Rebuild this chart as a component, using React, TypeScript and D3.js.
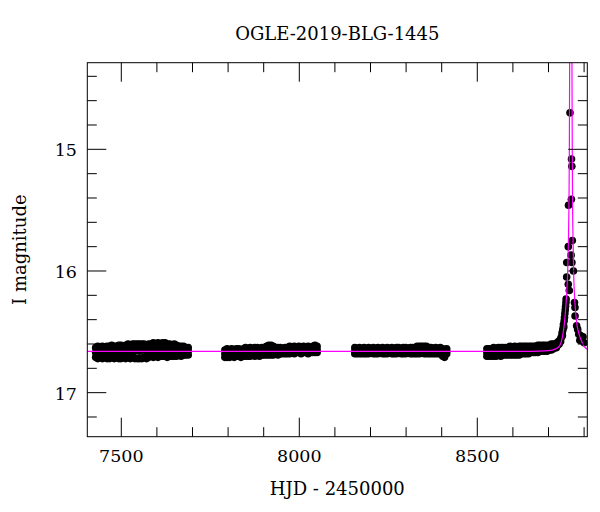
import React from "react";
import * as d3 from "d3";

// ---------- data ----------
// baseline seasons: [HJD-2450000, mag, mag, mag] (several measurements per group of nights)
const season1: number[][] = [
  [7428, 16.63, 16.67, 16.71], [7434, 16.62, 16.68, 16.72], [7441, 16.63, 16.66, 16.71],
  [7447, 16.62, 16.69, 16.72], [7454, 16.63, 16.67, 16.71], [7460, 16.62, 16.66, 16.72],
  [7467, 16.62, 16.68, 16.72], [7473, 16.61, 16.65, 16.71], [7480, 16.62, 16.67, 16.72],
  [7486, 16.62, 16.69, 16.71], [7493, 16.61, 16.66, 16.72], [7499, 16.61, 16.67, 16.72],
  [7506, 16.62, 16.65, 16.71], [7512, 16.61, 16.68, 16.72], [7519, 16.60, 16.66, 16.71],
  [7525, 16.61, 16.67, 16.72], [7532, 16.60, 16.65, 16.71], [7538, 16.60, 16.66, 16.72],
  [7545, 16.60, 16.64, 16.72], [7551, 16.60, 16.66, 16.72], [7558, 16.60, 16.65, 16.72],
  [7564, 16.60, 16.64, 16.71], [7571, 16.61, 16.66, 16.72], [7577, 16.60, 16.65, 16.71],
  [7584, 16.60, 16.63, 16.70], [7590, 16.59, 16.65, 16.71], [7597, 16.60, 16.64, 16.70],
  [7603, 16.59, 16.66, 16.71], [7610, 16.60, 16.63, 16.70], [7616, 16.59, 16.65, 16.70],
  [7623, 16.59, 16.64, 16.70], [7629, 16.60, 16.66, 16.71], [7636, 16.60, 16.63, 16.70],
  [7642, 16.61, 16.65, 16.70], [7649, 16.60, 16.64, 16.70], [7655, 16.61, 16.66, 16.70],
  [7662, 16.62, 16.64, 16.69], [7668, 16.62, 16.65, 16.70], [7675, 16.62, 16.66, 16.69],
  [7681, 16.63, 16.65, 16.69], [7688, 16.63, 16.66, 16.69],
];
const season2: number[][] = [
  [7791, 16.65, 16.68, 16.71], [7797, 16.64, 16.67, 16.71], [7804, 16.65, 16.69, 16.71],
  [7810, 16.64, 16.67, 16.70], [7817, 16.65, 16.68, 16.71], [7823, 16.64, 16.66, 16.70],
  [7830, 16.64, 16.68, 16.70], [7836, 16.65, 16.67, 16.71], [7843, 16.64, 16.68, 16.70],
  [7849, 16.63, 16.66, 16.70], [7856, 16.64, 16.67, 16.70], [7862, 16.63, 16.68, 16.70],
  [7869, 16.64, 16.66, 16.69], [7875, 16.63, 16.67, 16.70], [7882, 16.63, 16.66, 16.69],
  [7888, 16.64, 16.67, 16.70], [7895, 16.63, 16.66, 16.69], [7901, 16.63, 16.67, 16.69],
  [7908, 16.62, 16.65, 16.69], [7914, 16.61, 16.66, 16.69], [7921, 16.61, 16.65, 16.69],
  [7927, 16.62, 16.66, 16.69], [7934, 16.63, 16.65, 16.68], [7940, 16.63, 16.66, 16.69],
  [7947, 16.63, 16.65, 16.68], [7953, 16.64, 16.66, 16.68], [7960, 16.63, 16.65, 16.68],
  [7966, 16.63, 16.66, 16.68], [7973, 16.62, 16.65, 16.68], [7979, 16.63, 16.66, 16.67],
  [7986, 16.62, 16.65, 16.68], [7992, 16.63, 16.64, 16.67], [7999, 16.62, 16.65, 16.67],
  [8005, 16.63, 16.66, 16.68], [8012, 16.62, 16.64, 16.67], [8018, 16.63, 16.65, 16.67],
  [8025, 16.62, 16.66, 16.68], [8031, 16.63, 16.65, 16.67], [8038, 16.62, 16.64, 16.67],
  [8044, 16.61, 16.66, 16.67], [8050, 16.62, 16.65, 16.67],
];
const season3: number[][] = [
  [8156, 16.63, 16.66, 16.68], [8162, 16.64, 16.65, 16.68], [8169, 16.63, 16.67, 16.68],
  [8175, 16.64, 16.66, 16.68], [8182, 16.63, 16.65, 16.68], [8188, 16.64, 16.66, 16.68],
  [8195, 16.63, 16.67, 16.68], [8201, 16.64, 16.65, 16.67], [8208, 16.63, 16.66, 16.68],
  [8214, 16.64, 16.67, 16.68], [8221, 16.63, 16.65, 16.68], [8227, 16.64, 16.66, 16.67],
  [8234, 16.63, 16.67, 16.68], [8240, 16.64, 16.65, 16.68], [8247, 16.63, 16.66, 16.68],
  [8253, 16.64, 16.66, 16.67], [8260, 16.63, 16.65, 16.68], [8266, 16.64, 16.67, 16.68],
  [8273, 16.63, 16.66, 16.68], [8279, 16.63, 16.65, 16.67], [8286, 16.64, 16.66, 16.68],
  [8292, 16.63, 16.67, 16.68], [8299, 16.63, 16.65, 16.68], [8305, 16.64, 16.66, 16.67],
  [8312, 16.63, 16.66, 16.68], [8318, 16.63, 16.65, 16.68], [8325, 16.63, 16.66, 16.68],
  [8331, 16.62, 16.65, 16.68], [8338, 16.62, 16.66, 16.68], [8344, 16.62, 16.65, 16.67],
  [8351, 16.62, 16.66, 16.68], [8357, 16.62, 16.65, 16.68], [8364, 16.63, 16.66, 16.68],
  [8370, 16.63, 16.65, 16.68], [8377, 16.64, 16.66, 16.68], [8383, 16.63, 16.65, 16.68],
  [8390, 16.64, 16.66, 16.68], [8396, 16.63, 16.65, 16.68], [8403, 16.64, 16.68, 16.70],
  [8408, 16.65, 16.69, 16.71], [8414, 16.64, 16.66, 16.68],
];
const season4: number[][] = [
  [8527, 16.64, 16.67, 16.70], [8533, 16.64, 16.68, 16.70], [8540, 16.64, 16.66, 16.70],
  [8546, 16.63, 16.67, 16.70], [8553, 16.64, 16.68, 16.70], [8559, 16.63, 16.66, 16.69],
  [8566, 16.63, 16.67, 16.70], [8572, 16.63, 16.66, 16.69], [8579, 16.63, 16.67, 16.69],
  [8585, 16.63, 16.65, 16.69], [8592, 16.62, 16.66, 16.69], [8598, 16.63, 16.67, 16.69],
  [8605, 16.62, 16.65, 16.69], [8611, 16.63, 16.66, 16.69], [8618, 16.62, 16.65, 16.69],
  [8624, 16.62, 16.66, 16.68], [8631, 16.62, 16.65, 16.68], [8637, 16.62, 16.66, 16.68],
  [8644, 16.62, 16.64, 16.68], [8650, 16.62, 16.65, 16.67], [8657, 16.62, 16.64, 16.67],
  [8663, 16.62, 16.65, 16.67], [8670, 16.61, 16.64, 16.67], [8676, 16.61, 16.63, 16.66],
  [8683, 16.61, 16.64, 16.66], [8689, 16.61, 16.63, 16.66], [8696, 16.61, 16.64, 16.66],
  [8702, 16.61, 16.63, 16.65], [8708, 16.60, 16.63, 16.65], [8714, 16.60, 16.62, 16.64],
];
// event: [HJD-2450000, mag]
const eventPoints: number[][] = [
  [8718, 16.62], [8720, 16.60], [8722, 16.63], [8724, 16.59], [8726, 16.61], [8728, 16.58],
  [8730, 16.60], [8732, 16.57], [8734, 16.58], [8735, 16.55], [8737, 16.54], [8738, 16.51],
  [8739, 16.53], [8740, 16.49], [8741, 16.47], [8742, 16.44], [8743, 16.46], [8744, 16.41],
  [8745, 16.38], [8746, 16.35], [8747, 16.32], [8748, 16.29], [8749, 16.26], [8749.5, 16.23],
  [8751.0, 16.05], [8751.3, 15.93], [8755.6, 15.80], [8755.6, 16.11], [8756.2, 15.46],
  [8758.4, 16.16], [8760.4, 14.70], [8763.5, 15.87], [8764.3, 15.41], [8764.6, 15.08],
  [8765.5, 15.14], [8765.8, 15.93], [8766.9, 15.75], [8770, 16.00], [8773, 16.26],
  [8774.4, 16.30], [8774.6, 16.37], [8779, 16.45], [8782, 16.48], [8785, 16.52],
  [8788, 16.57], [8790, 16.53], [8793, 16.56], [8797, 16.54], [8800, 16.59],
];
// model light curve: [HJD-2450000, mag]
const model: number[][] = [
  [7404, 16.66], [8650, 16.66], [8700, 16.655], [8720, 16.64], [8730, 16.62], [8736, 16.58],
  [8741, 16.51], [8745, 16.42], [8749, 16.28], [8752, 16.14], [8754, 16.0], [8756, 15.75],
  [8757.5, 15.45], [8758.6, 15.0], [8759.4, 14.3], [8760.3, 13.6], [8762.7, 13.3],
  [8765, 13.6], [8765.9, 14.3], [8766.8, 15.0], [8767.6, 15.45], [8769, 15.75],
  [8771, 16.05], [8774, 16.25], [8779, 16.42], [8785, 16.51], [8792, 16.57],
  [8800, 16.62], [8810, 16.645],
];
const xMajorTicks = [7500, 8000, 8500];
const xMinorTicks = [7500, 7600, 7700, 7800, 7900, 8000, 8100, 8200, 8300, 8400, 8500, 8600, 8700, 8800];
const yMajorTicks = [15, 16, 17];
const yMinorTicks = [14.4, 14.6, 14.8, 15, 15.2, 15.4, 15.6, 15.8, 16, 16.2, 16.4, 16.6, 16.8, 17, 17.2];

const title = "OGLE-2019-BLG-1445";
const xLabel = "HJD - 2450000";
const yLabel = "I magnitude";

// ---------- layout ----------
const W = 600, H = 512;
const L = 87.3, R = 587.3, T = 62.7, B = 436.7;
const FONT = "'DejaVu Serif', serif";

export default function App() {
  const x = d3.scaleLinear().domain([7404.5, 8809]).range([L, R]);
  const y = d3.scaleLinear().domain([14.288, 17.362]).range([T, B]);

  const pts: [number, number][] = [];
  for (const s of [season1, season2, season3, season4]) {
    for (const row of s) for (let i = 1; i < row.length; i++) pts.push([row[0], row[i]]);
  }
  for (const p of eventPoints) pts.push([p[0], p[1]]);

  const line = d3
    .line<number[]>()
    .x((d) => x(d[0]))
    .y((d) => y(d[1]))
    .curve(d3.curveMonotoneX);

  const major = 19, minor = 9.5;

  return (
    <svg width={W} height={H} style={{ position: "absolute", left: 0, top: 0, background: "#fff" }}>
      <defs>
        <clipPath id="plot">
          <rect x={L} y={T} width={R - L} height={B - T} />
        </clipPath>
      </defs>
      <rect x={0} y={0} width={W} height={H} fill="#fff" />
      <g clipPath="url(#plot)">
        {pts.map((p, i) => (
          <circle key={i} cx={x(p[0])} cy={y(p[1])} r={3.8} fill="#000" />
        ))}
        <path d={line(model) || ""} fill="none" stroke="#ff00ff" strokeWidth={1.2} />
      </g>
      {/* ticks */}
      <g stroke="#000" strokeWidth={1}>
        {xMinorTicks.map((t) => {
          const len = xMajorTicks.includes(t) ? major : minor;
          return (
            <g key={"x" + t}>
              <line x1={x(t)} x2={x(t)} y1={B} y2={B - len} />
              <line x1={x(t)} x2={x(t)} y1={T} y2={T + len} />
            </g>
          );
        })}
        {yMinorTicks.map((t) => {
          const len = yMajorTicks.some((m) => Math.abs(m - t) < 1e-6) ? major : minor;
          return (
            <g key={"y" + t}>
              <line x1={L} x2={L + len} y1={y(t)} y2={y(t)} />
              <line x1={R} x2={R - len} y1={y(t)} y2={y(t)} />
            </g>
          );
        })}
      </g>
      <rect x={L} y={T} width={R - L} height={B - T} fill="none" stroke="#000" strokeWidth={1} />
      {/* tick labels */}
      <g fontFamily={FONT} fontSize={17.5} fill="#000">
        {xMajorTicks.map((t) => (
          <text key={"xl" + t} x={x(t)} y={461.7} textAnchor="middle">
            {t}
          </text>
        ))}
        {yMajorTicks.map((t) => (
          <text key={"yl" + t} x={77} y={y(t) + 7} textAnchor="end">
            {t}
          </text>
        ))}
      </g>
      <text x={(L + R) / 2} y={40} textAnchor="middle" fontFamily={FONT} fontSize={18}>
        {title}
      </text>
      <text x={(L + R) / 2} y={495} textAnchor="middle" fontFamily={FONT} fontSize={18}>
        {xLabel}
      </text>
      <text
        transform={`translate(26,${(T + B) / 2}) rotate(-90)`}
        textAnchor="middle"
        fontFamily={FONT}
        fontSize={18}
      >
        {yLabel}
      </text>
    </svg>
  );
}
